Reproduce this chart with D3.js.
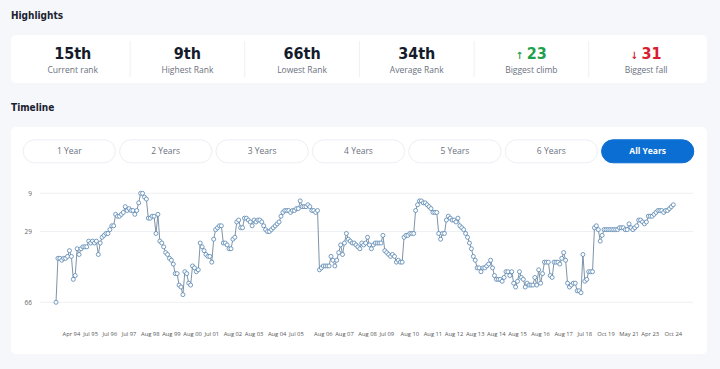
<!DOCTYPE html>
<html><head>
<meta charset="utf-8">
<script src="https://cdnjs.cloudflare.com/ajax/libs/d3/7.8.5/d3.min.js"></script>
<style>
  html, body { margin: 0; padding: 0; background: #f5f7fa; }
  .ttl { font-family: "Liberation Sans Narrow", "DejaVu Sans Condensed", "Roboto", sans-serif; font-weight: bold; fill: #1b2230; }
  .lbl { font-family: "Open Sans", "Noto Sans", sans-serif; }
</style>
</head>
<body>
<script>
// highlight cards
var statLabels = ["Current rank", "Highest Rank", "Lowest Rank", "Average Rank", "Biggest climb", "Biggest fall"];
var statValues = ["15th", "9th", "66th", "34th", "23", "31"];
var statArrows = ["", "", "", "", "\u2191", "\u2193"];
var statColors = ["#141c2b", "#141c2b", "#141c2b", "#141c2b", "#1fa04c", "#d7202f"];

// period buttons
var periods = ["1 Year", "2 Years", "3 Years", "4 Years", "5 Years", "6 Years", "All Years"];
var activePeriod = "All Years";

// rank per ranking release (oldest first)
var ranks = [
  66, 43, 43, 44, 43, 43, 42, 39, 42, 54, 52, 38, 41, 38, 37, 37, 37, 34, 35, 34,
  35, 34, 41, 35, 32, 31, 30, 30, 28, 26, 26, 20, 21, 21, 20, 19, 16, 18, 17, 18,
  18, 20, 18, 14, 9, 9, 11, 12, 22, 22, 21, 21, 30, 20, 34, 35, 37, 40, 41, 43,
  44, 46, 51, 51, 57, 58, 62,
  50, 51, 56, 57, 47, 48, 50, 49, 35, 37, 39, 41, 42, 42, 45, 33, 28, 27, 26, 26,
  35, 35, 36, 38, 38, 33, 32, 24, 23, 27, 27, 22, 22, 23, 24, 26, 23, 24, 23, 23,
  24, 26, 28, 29, 29, 28, 27, 26, 25, 24, 21, 19, 18, 18, 18, 19, 18, 18, 17, 17,
  13, 16, 16,
  16, 15, 16, 18, 18, 19, 18,
  49, 48, 47, 47, 47, 47, 42, 44, 47, 44, 40, 36, 41, 35, 30, 33, 34, 35, 35, 36,
  37, 38, 35, 36, 35, 32, 36, 38, 36, 35, 35, 35, 35, 31,
  39, 40, 41, 42, 41, 42, 45, 44, 45, 45, 32, 31, 31, 30, 30, 30, 18, 15, 13, 13,
  14, 14, 15, 16, 17, 19, 19, 19, 30, 33, 30, 30, 23, 21, 22, 23, 23, 24, 22, 26,
  27, 28, 30, 32, 35, 38, 42,
  44, 48, 48, 50, 48, 48, 47, 46, 44, 48, 52, 54, 54, 54, 55, 53, 50, 50, 52, 50,
  56, 58, 55, 50, 53, 54, 58, 56, 57, 57, 57, 53, 57, 49, 56, 51, 45, 45, 45, 52,
  53,
  45, 45, 45, 46, 43, 40, 44, 56, 58, 57, 56, 56, 60, 60, 61, 41, 55, 54, 50, 50,
  50, 27, 26, 28, 34, 31, 28, 28, 28, 28, 28, 28, 28, 28, 27, 27, 27, 28, 28, 25,
  27, 28, 27, 26, 23, 23, 24, 25, 24, 21, 21, 21, 20, 19, 18, 18, 18, 19, 18, 18,
  17, 16, 15
];

// x labels and the release index they sit on
var tickLabels = ["Apr 94", "Jul 95", "Jul 96", "Jul 97", "Aug 98", "Aug 99", "Aug 00", "Jul 01",
  "Aug 02", "Aug 03", "Aug 04", "Jul 05", "Aug 06", "Aug 07", "Aug 08", "Jul 09", "Aug 10",
  "Aug 11", "Aug 12", "Aug 13", "Aug 14", "Aug 15", "Aug 16", "Aug 17", "Jul 18", "Oct 19",
  "May 21", "Apr 23", "Oct 24"];
var tickIndex = [8, 18, 28, 38, 49, 60, 71, 81, 92, 103, 115, 125, 139, 150, 162, 172, 184,
  196, 207, 218, 229, 240, 252, 264, 275, 286, 298, 309, 321];
var rankTicks = [9, 29, 66];

var W = 720, H = 369;
var svg = d3.select("body").append("svg")
    .attr("width", W).attr("height", H)
    .style("display", "block");

svg.append("rect").attr("width", W).attr("height", H).attr("fill", "#f5f7fa");

// ---- Highlights ----
svg.append("text").attr("class", "ttl")
    .attr("x", 11).attr("y", 19).style("font-size", "10px")
    .text("Highlights");

svg.append("rect")
    .attr("x", 11).attr("y", 35).attr("width", 696).attr("height", 48)
    .attr("rx", 5).attr("fill", "#fff");

var col = d3.scaleBand().domain(statLabels).range([15.4, 703.4]);

svg.selectAll(".sep").data(statLabels.slice(1)).enter().append("line")
    .attr("class", "sep")
    .attr("x1", function(d) { return col(d); })
    .attr("x2", function(d) { return col(d); })
    .attr("y1", 41).attr("y2", 77)
    .attr("stroke", "#eef0f3").attr("stroke-width", 1);

var stat = svg.selectAll(".stat").data(statLabels).enter().append("g")
    .attr("class", "stat")
    .attr("transform", function(d) { return "translate(" + (col(d) + col.bandwidth() / 2) + ",0)"; });

var val = stat.append("text").attr("class", "ttl")
    .attr("y", 58.5).attr("text-anchor", "middle")
    .style("font-size", "16px")
    .style("fill", function(d, i) { return statColors[i]; });
val.append("tspan")
    .style("font-size", "10px")
    .text(function(d, i) { return statArrows[i] ? statArrows[i] + " " : ""; });
val.append("tspan")
    .text(function(d, i) { return statValues[i]; });

stat.append("text").attr("class", "lbl")
    .attr("y", 72.5).attr("text-anchor", "middle")
    .style("font-size", "8.5px").style("fill", "#6b7280")
    .text(function(d) { return d; });

// ---- Timeline ----
svg.append("text").attr("class", "ttl")
    .attr("x", 11).attr("y", 110.7).style("font-size", "10px")
    .text("Timeline");

svg.append("rect")
    .attr("x", 11).attr("y", 127).attr("width", 696).attr("height", 227)
    .attr("rx", 5).attr("fill", "#fff");

var pill = d3.scaleBand().domain(periods).range([22.7, 694.3]).paddingInner(0.033);

var btn = svg.selectAll(".btn").data(periods).enter().append("g")
    .attr("class", "btn")
    .attr("transform", function(d) { return "translate(" + pill(d) + ",139.3)"; });
btn.append("rect")
    .attr("x", 0.5).attr("y", 0.5)
    .attr("width", pill.bandwidth() - 1).attr("height", 23)
    .attr("rx", 11.5)
    .attr("fill", function(d) { return d === activePeriod ? "#0a6ed3" : "#fff"; })
    .attr("stroke", function(d) { return d === activePeriod ? "#0a6ed3" : "#eceef2"; });
btn.append("text").attr("class", "lbl")
    .attr("x", pill.bandwidth() / 2).attr("y", 14.8)
    .attr("text-anchor", "middle")
    .style("font-size", "8.5px")
    .style("font-weight", function(d) { return d === activePeriod ? "bold" : "normal"; })
    .style("fill", function(d) { return d === activePeriod ? "#fff" : "#6b7280"; })
    .text(function(d) { return d; });

// ---- rank chart ----
var x = d3.scaleLinear().domain([0, ranks.length - 1]).range([56, 673.3]);
var y = d3.scaleLinear().domain([9, 66]).range([193.3, 302.3]);

svg.selectAll(".grid").data(rankTicks).enter().append("line")
    .attr("class", "grid")
    .attr("x1", 40).attr("x2", 693)
    .attr("y1", function(d) { return y(d); })
    .attr("y2", function(d) { return y(d); })
    .attr("stroke", "#eef0f4").attr("stroke-width", 1);

svg.selectAll(".ylab").data(rankTicks).enter().append("text")
    .attr("class", "lbl ylab")
    .attr("x", 32).attr("y", function(d) { return y(d); })
    .attr("dy", "0.35em").attr("text-anchor", "end")
    .style("font-size", "6.5px").style("fill", "#666")
    .text(function(d) { return d; });

svg.selectAll(".xlab").data(tickLabels).enter().append("text")
    .attr("class", "lbl xlab")
    .attr("x", function(d, i) { return x(tickIndex[i]); })
    .attr("y", 336).attr("text-anchor", "middle")
    .style("font-size", "5.8px").style("fill", "#555")
    .text(function(d) { return d; });

var line = d3.line()
    .x(function(d, i) { return x(i); })
    .y(function(d) { return y(d); });

svg.append("path").datum(ranks)
    .attr("d", line)
    .attr("fill", "none")
    .attr("stroke", "#6f879c").attr("stroke-width", 0.9);

svg.selectAll(".pt").data(ranks).enter().append("circle")
    .attr("class", "pt")
    .attr("cx", function(d, i) { return x(i); })
    .attr("cy", function(d) { return y(d); })
    .attr("r", 2)
    .attr("fill", "#fff")
    .attr("stroke", "#5584b0").attr("stroke-width", 0.8);
</script>
</body></html>
